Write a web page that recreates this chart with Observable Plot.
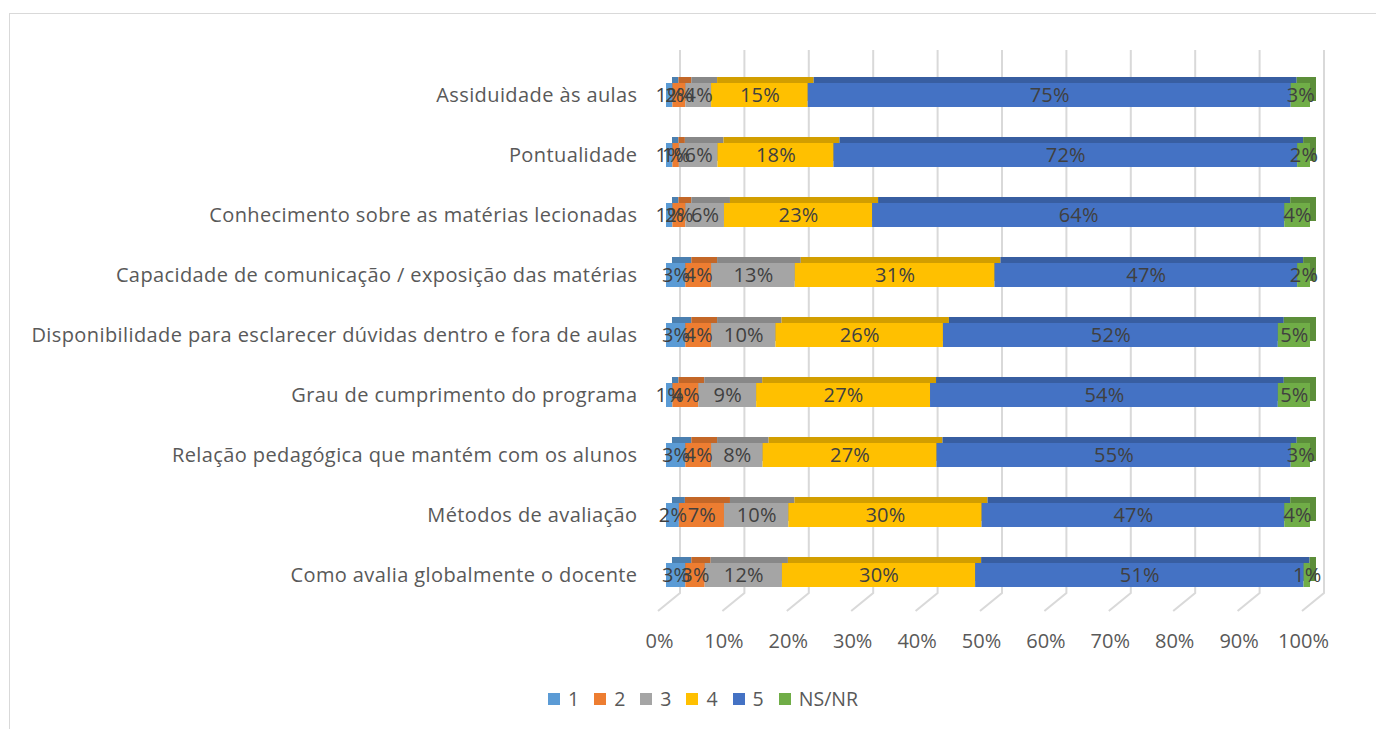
<!DOCTYPE html>
<html>
<head>
<meta charset="utf-8">
<script src="https://cdn.jsdelivr.net/npm/d3@7"></script>
<script src="https://cdn.jsdelivr.net/npm/@observablehq/plot@0.6"></script>
<style>
  html, body { margin: 0; padding: 0; background: #fff; }
  #wrap { position: relative; width: 1376px; height: 729px; overflow: hidden; font-family: "Open Sans", Lato, sans-serif; }
  #frame { position: absolute; left: 9px; top: 13px; width: 1420px; height: 760px; border: 1.5px solid #d9d9d9; box-sizing: border-box; }
  #chart { position: absolute; left: 0; top: 0; }
  #legend { position: absolute; top: 685px; left: 0; width: 1376px; display: flex; justify-content: center; gap: 15px; padding-left: 30px; box-sizing: border-box; font-size: 19.5px; color: #595959; }
  #legend .item { display: flex; align-items: center; gap: 8px; }
  #legend .sw { width: 12px; height: 12px; display: inline-block; }
  .ylab text { letter-spacing: 0.4px; }
  .dlab text { letter-spacing: 0.2px; }
</style>
</head>
<body>
<div id="wrap">
  <div id="frame"></div>
  <div id="chart"></div>
  <div id="legend"></div>
</div>
<script>
const categories = [
  "Assiduidade às aulas",
  "Pontualidade",
  "Conhecimento sobre as matérias lecionadas",
  "Capacidade de comunicação / exposição das matérias",
  "Disponibilidade para esclarecer dúvidas dentro e fora de aulas",
  "Grau de cumprimento do programa",
  "Relação pedagógica que mantém com os alunos",
  "Métodos de avaliação",
  "Como avalia globalmente o docente"
];
const seriesNames = ["1", "2", "3", "4", "5", "NS/NR"];
const values1  = [1, 1, 1, 3, 3, 1, 3, 2, 3];
const values2  = [2, 1, 2, 4, 4, 4, 4, 7, 3];
const values3  = [4, 6, 6, 13, 10, 9, 8, 10, 12];
const values4  = [15, 18, 23, 31, 26, 27, 27, 30, 30];
const values5  = [75, 72, 64, 47, 52, 54, 55, 47, 51];
const valuesNS = [3, 2, 4, 2, 5, 5, 3, 4, 1];
const seriesColors = ["#5B9BD5", "#ED7D31", "#A5A5A5", "#FFC000", "#4472C4", "#70AD47"];
const xTicks = [0, 10, 20, 30, 40, 50, 60, 70, 80, 90, 100];

const allValues = [values1, values2, values3, values4, values5, valuesNS];
const data = [];
seriesNames.forEach((s, si) => {
  categories.forEach((c, ci) => {
    data.push({cat: c, series: s, value: allValues[si][ci]});
  });
});
const darkColors = seriesColors.map(c => d3.color(c).darker(0.55).formatHex());

const gridMark = (index, scales) => {
  const g = d3.create("svg:g");
  for (const t of xTicks) {
    const x = scales.x(t);
    g.append("path")
      .attr("d", `M${x + 14},50 L${x + 14},593 L${x - 8},611`)
      .attr("fill", "none")
      .attr("stroke", "#d9d9d9")
      .attr("stroke-width", 2);
  }
  return g.node();
};

const chart = Plot.plot({
  width: 1376,
  height: 680,
  marginLeft: 666,
  marginRight: 66,
  marginTop: 62.75,
  marginBottom: 72.75,
  style: {fontFamily: "'Open Sans', Lato, sans-serif", background: "transparent", overflow: "visible"},
  x: {domain: [0, 100]},
  y: {domain: categories, paddingInner: 0.6, paddingOuter: 0.3, label: null},
  color: {domain: seriesNames, range: seriesColors},
  marks: [
    gridMark,
    Plot.barX(data, Plot.stackX({
      x: "value", y: "cat", z: "series", order: seriesNames,
      fill: d => darkColors[seriesNames.indexOf(d.series)],
      dx: 6, dy: -6
    })),
    Plot.barX(data, Plot.stackX({
      x: "value", y: "cat", z: "series", order: seriesNames, fill: "series"
    })),
    Plot.text(data, Plot.stackX({
      x: "value", y: "cat", z: "series", order: seriesNames,
      text: d => d.value + "%", fill: "#404040", fontSize: 20, className: "dlab"
    })),
    Plot.axisY({tickSize: 0, tickPadding: 29, fontSize: 20, color: "#595959", label: null, className: "ylab"}),
    Plot.axisX({ticks: xTicks, tickSize: 0, tickPadding: 26, dx: -7, fontSize: 20, color: "#595959", tickFormat: d => d + "%", label: null})
  ]
});
document.getElementById("chart").appendChild(chart);

const legend = document.getElementById("legend");
seriesNames.forEach((s, i) => {
  const item = document.createElement("div");
  item.className = "item";
  const sw = document.createElement("span");
  sw.className = "sw";
  sw.style.background = seriesColors[i];
  const lab = document.createElement("span");
  lab.textContent = s;
  item.appendChild(sw);
  item.appendChild(lab);
  legend.appendChild(item);
});
</script>
</body>
</html>
